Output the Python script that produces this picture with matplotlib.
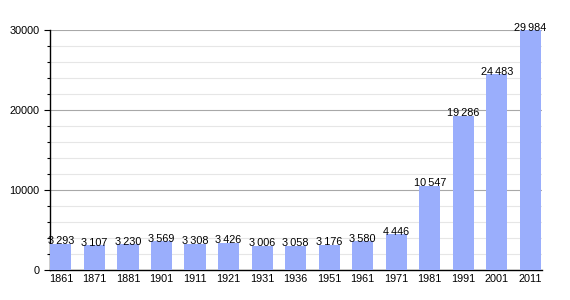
import matplotlib
matplotlib.use("Agg")
import matplotlib.pyplot as plt
from matplotlib.ticker import MultipleLocator

plt.rcParams["font.family"] = ["Liberation Sans", "DejaVu Sans"]

years = ["1861", "1871", "1881", "1901", "1911", "1921", "1931", "1936",
         "1951", "1961", "1971", "1981", "1991", "2001", "2011"]
population = [3293, 3107, 3230, 3569, 3308, 3426, 3006, 3058,
              3176, 3580, 4446, 10547, 19286, 24483, 29984]

fig = plt.figure(figsize=(5.7, 3.0), dpi=100)
ax = fig.add_axes([0.088, 0.1, 0.863, 0.8])

x = range(len(years))
ax.bar(x, population, width=0.63, color="#9aaefc", zorder=3)

for i, v in zip(x, population):
    ax.text(i, v - 300, f"{v:,}".replace(",", "\u2009"), ha="center", va="bottom",
            fontsize=7.8, color="black", zorder=4)

ax.set_xlim(-0.32, 14.35)
ax.set_ylim(0, 30000)
ax.set_xticks(list(x))
ax.set_xticklabels(years, fontsize=7.8)
ax.yaxis.set_major_locator(MultipleLocator(10000))
ax.yaxis.set_minor_locator(MultipleLocator(2000))
ax.tick_params(axis="y", which="major", labelsize=7.8, length=4, width=0.8)
ax.tick_params(axis="y", which="minor", length=2.5, width=0.8)
ax.tick_params(axis="x", length=0, pad=3)
ax.grid(axis="y", which="major", color="#a8a8a8", lw=0.8, zorder=1)
ax.grid(axis="y", which="minor", color="#e6e6e6", lw=0.8, zorder=1)

for s in ["top", "right"]:
    ax.spines[s].set_visible(False)
ax.spines["left"].set_linewidth(1.0)
ax.spines["bottom"].set_linewidth(1.0)

fig.savefig("out.png", dpi=100)
